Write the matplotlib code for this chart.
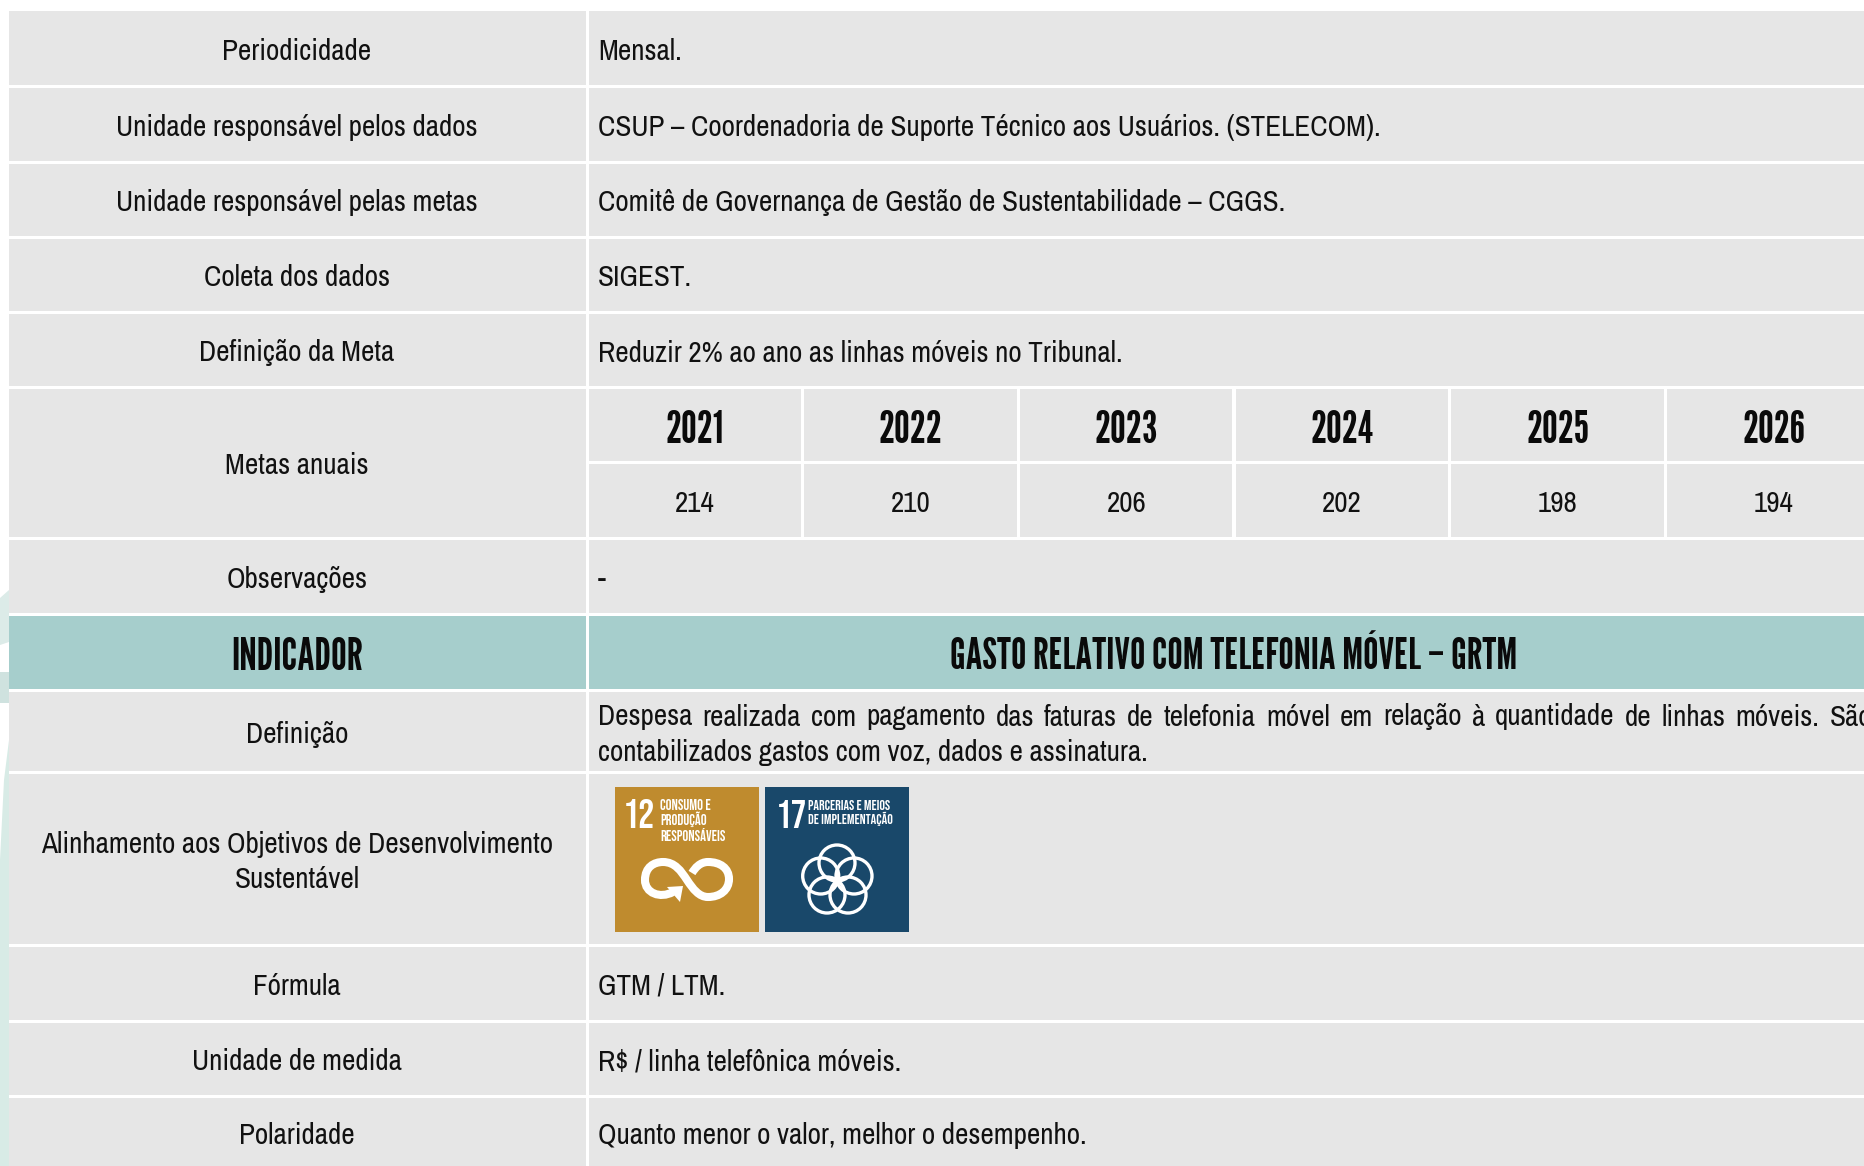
import matplotlib
matplotlib.use('Agg')
import matplotlib.pyplot as plt
from matplotlib import font_manager as fm
from matplotlib.patches import Rectangle, Circle, Polygon, PathPatch
from matplotlib.path import Path

row_labels = ['Periodicidade', 'Unidade responsável pelos dados', 'Unidade responsável pelas metas',
              'Coleta dos dados', 'Definição da Meta', 'Metas anuais', 'Observações', 'INDICADOR',
              'Definição', 'Alinhamento aos Objetivos de Desenvolvimento\nSustentável', 'Fórmula',
              'Unidade de medida', 'Polaridade']
row_values = ['Mensal.',
              'CSUP – Coordenadoria de Suporte Técnico aos Usuários. (STELECOM).',
              'Comitê de Governança de Gestão de Sustentabilidade – CGGS.',
              'SIGEST.',
              'Reduzir 2% ao ano as linhas móveis no Tribunal.',
              '', '-', 'GASTO RELATIVO COM TELEFONIA MÓVEL – GRTM',
              '', '', 'GTM / LTM.', 'R$ / linha telefônica móveis.',
              'Quanto menor o valor, melhor o desempenho.']
years = ['2021', '2022', '2023', '2024', '2025', '2026']
metas = ['214', '210', '206', '202', '198', '194']
definicao_1 = 'Despesa realizada com pagamento das faturas de telefonia móvel em relação à quantidade de linhas móveis. São'
definicao_2 = 'contabilizados gastos com voz, dados e assinatura.'

# row edges in px
row_top = [11, 88, 163.5, 239, 314, 389, 540, 615.5, 692, 774, 947, 1022.5, 1098]
row_bot = [85, 160.5, 236, 311, 386, 537, 612.5, 689, 771, 944, 1019.5, 1095, 1166]
GREY = '#E6E6E6'
TEAL = '#A6CECC'
INK = '#111111'
W, H = 1864, 1166

avail = {f.name for f in fm.fontManager.ttflist}
BODY = 'Archivo Narrow' if 'Archivo Narrow' in avail else 'Liberation Sans'
HEAD = 'League Gothic' if 'League Gothic' in avail else 'Liberation Sans'
ICON = 'Bebas Neue' if 'Bebas Neue' in avail else 'Liberation Sans'
TS = 21 if BODY == 'Archivo Narrow' else 17.4
HS = 32 if HEAD == 'League Gothic' else 20
plt.rcParams['font.family'] = [BODY, 'DejaVu Sans']

fig = plt.figure(figsize=(W / 100, H / 100), dpi=100)
ax = fig.add_axes([0, 0, 1, 1])
ax.set_xlim(0, W)
ax.set_ylim(H, 0)
ax.axis('off')

# pale shapes of the page background showing at the left edge
ax.add_patch(Polygon([(0, 598), (9, 590), (9, 642), (0, 645)], color='#DCEBE8', lw=0))
ax.add_patch(Polygon([(0, 672), (9, 672), (9, 703), (0, 703)], color='#CFE2DF', lw=0))
ax.add_patch(Polygon([(0, 860), (4, 780), (9, 740), (9, 1166), (0, 1166)], color='#D8EBE6', lw=0))

LX, LW = 9, 577
RX = 588.5
for i, (lab, val) in enumerate(zip(row_labels, row_values)):
    top, bot = row_top[i], row_bot[i]
    col = TEAL if lab == 'INDICADOR' else GREY
    ax.add_patch(Rectangle((LX, top), LW, bot - top, color=col, lw=0))
    cy = (top + bot) / 2
    if lab == 'INDICADOR':
        ax.add_patch(Rectangle((RX, top), W - RX, bot - top, color=col, lw=0))
        ax.text(297, cy + 5, lab, ha='center', va='center', fontsize=HS, fontfamily=HEAD, color='#0A0A0A')
        ax.text(1234, cy + 5, val, ha='center', va='center', fontsize=HS - 1, fontfamily=HEAD, color='#0A0A0A')
        continue
    if lab != 'Metas anuais':
        ax.add_patch(Rectangle((RX, top), W - RX, bot - top, color=col, lw=0))
    if i == 12:
        cy = 1132.5
    ax.text(297, cy + 3, lab, ha='center', va='center', fontsize=TS, color=INK, linespacing=1.34)
    if val:
        ax.text(598, cy + 3, val, ha='left', va='center', fontsize=TS, color=INK)

# metas anuais sub table
for j, (y, m) in enumerate(zip(years, metas)):
    x0 = RX + j * 215.7
    ax.add_patch(Rectangle((x0, 389), 212.5, 72, color=GREY, lw=0))
    ax.add_patch(Rectangle((x0, 464), 212.5, 73, color=GREY, lw=0))
    ax.text(x0 + 106.5, 430.5, y, ha='center', va='center', fontsize=HS, fontfamily=HEAD, color='#0A0A0A')
    ax.text(x0 + 106.5, 504, m, ha='center', va='center', fontsize=TS, color=INK)

# definicao, first line is justified so words are spread out to the cell edge
fig.canvas.draw()
rend = fig.canvas.get_renderer()
words = definicao_1.split(' ')
items = [ax.text(598, 717, w, ha='left', va='center', fontsize=TS, color=INK, clip_on=True) for w in words]
widths = [t.get_window_extent(rend).width for t in items]
gap = (1872 - 598 - sum(widths)) / (len(words) - 1)
x = 598
for t, w in zip(items, widths):
    t.set_x(x)
    x += w + gap
ax.text(598, 753, definicao_2, ha='left', va='center', fontsize=TS, color=INK)

# ODS icons
ax.add_patch(Rectangle((615, 787), 144, 145, color='#BF8B2E', lw=0))
ax.add_patch(Rectangle((765, 787), 144, 145, color='#19486A', lw=0))
ax.text(623, 814, '12', ha='left', va='center', fontsize=29, fontfamily=ICON, color='white')
ax.text(660, 820, 'CONSUMO E\nPRODUÇÃO\nRESPONSÁVEIS', ha='left', va='center', fontsize=10.5,
        fontfamily=ICON, color='white', linespacing=1.08)
ax.text(776, 814, '17', ha='left', va='center', fontsize=28, fontfamily=ICON, color='white')
ax.text(808, 813, 'PARCERIAS E MEIOS\nDE IMPLEMENTAÇÃO', ha='left', va='center', fontsize=10,
        fontfamily=ICON, color='white', linespacing=1.08)

# infinity sign
inf = Path([(673, 892), (660, 899), (645, 893), (645, 880), (645, 867), (654, 862), (663, 862),
            (675, 862), (681, 871), (687, 880), (693, 889), (699, 897), (708, 897),
            (720, 897), (729, 890), (729, 879), (729, 868), (720, 862), (708, 862),
            (700, 862), (695, 868), (692, 873)],
           [Path.MOVETO] + [Path.CURVE4] * 21)
ax.add_patch(PathPatch(inf, fill=False, ec='white', lw=5.8))
ax.add_patch(Polygon([(667, 887), (683, 886), (680, 902)], color='white', lw=0))

# five rings
for cx, cy in [(837, 863), (820.7, 876), (854, 876), (827, 895), (848, 895)]:
    ax.add_patch(Circle((cx, cy), 18, fill=False, ec='white', lw=2.4))

fig.savefig('out.png', dpi=100)
